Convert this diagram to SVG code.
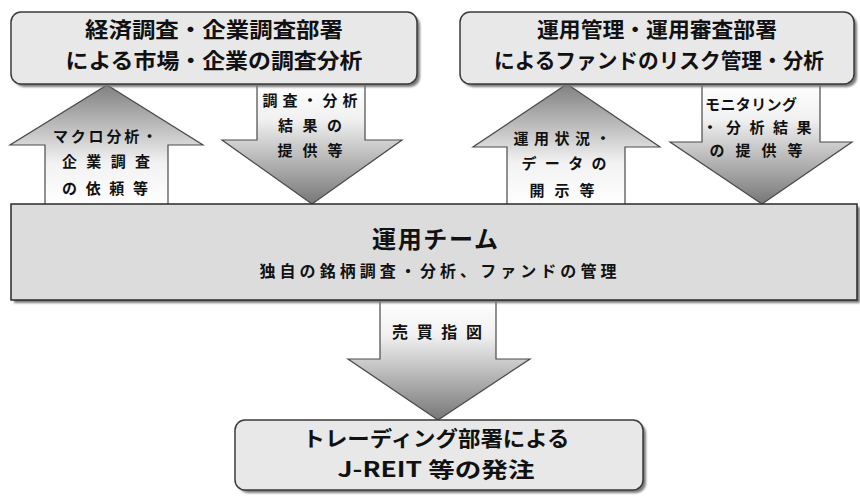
<svg xmlns="http://www.w3.org/2000/svg" width="860" height="496" viewBox="0 0 860 496">
<style>
.box{fill:#e8e8e8;stroke:#3a3a3a;stroke-width:1.5}
.mid{fill:#dcdcdc;stroke:#2a2a2a;stroke-width:1.5}
.shadow{fill:#7a7a7a;filter:url(#blur)}
.arrow{stroke:#4a4a4a;stroke-width:1.2;stroke-linejoin:miter}
.up{fill:url(#gUp)}
.down{fill:url(#gDown)}
text{font-family:"Noto Sans CJK JP","Noto Sans",sans-serif;font-weight:bold;fill:#111;text-anchor:middle}
.t1{font-size:21px}
.t2{font-size:15px}
.t3{font-size:24px}
.t4{font-size:16px}
</style>
<defs>
<linearGradient id="gUp" x1="0" y1="1" x2="0" y2="0">
<stop offset="0" stop-color="#ffffff"/>
<stop offset="0.35" stop-color="#f2f2f2"/>
<stop offset="1" stop-color="#808080"/>
</linearGradient>
<linearGradient id="gDown" x1="0" y1="0" x2="0" y2="1">
<stop offset="0" stop-color="#ffffff"/>
<stop offset="0.3" stop-color="#f0f0f0"/>
<stop offset="1" stop-color="#777777"/>
</linearGradient>
<filter id="blur" x="-5%" y="-5%" width="110%" height="120%"><feGaussianBlur stdDeviation="0.8"/></filter>
</defs>
<rect width="860" height="496" fill="#ffffff"/>

<g id="connectors">
<g id="arrow-macro-request">
<polygon class="arrow up" points="45,205 45,145 10,145 107,85 203,145 168,145 168,205"/>
<text class="t2" x="105" y="142" textLength="104" lengthAdjust="spacing">マクロ分析・</text>
<text class="t2" x="106" y="167" textLength="88" lengthAdjust="spacing">企業調査</text>
<text class="t2" x="105" y="194" textLength="86" lengthAdjust="spacing">の依頼等</text>
</g>
<g id="arrow-research-result">
<polygon class="arrow down" points="257,84 365,84 365,140 402,140 312,204 222,140 257,140"/>
<text class="t2" x="310" y="106" textLength="95" lengthAdjust="spacing">調査・分析</text>
<text class="t2" x="310" y="131" textLength="64" lengthAdjust="spacing">結果の</text>
<text class="t2" x="310" y="156" textLength="65" lengthAdjust="spacing">提供等</text>
</g>
<g id="arrow-status-disclosure">
<polygon class="arrow up" points="507,205 507,147 473,147 567,84 660,147 625,147 625,205"/>
<text class="t2" x="562" y="144" textLength="97" lengthAdjust="spacing">運用状況・</text>
<text class="t2" x="564" y="169" textLength="85" lengthAdjust="spacing">データの</text>
<text class="t2" x="562" y="196" textLength="65" lengthAdjust="spacing">開示等</text>
</g>
<g id="arrow-monitoring">
<polygon class="arrow down" points="702,84 820,84 820,142 852,142 762,204 670,142 702,142"/>
<text class="t2" x="751" y="110" textLength="92" lengthAdjust="spacing">モニタリング</text>
<text class="t2" x="757" y="133" textLength="109" lengthAdjust="spacing">・分析結果</text>
<text class="t2" x="756" y="156" textLength="93" lengthAdjust="spacing">の提供等</text>
</g>
<g id="arrow-order">
<polygon class="arrow down" points="380,300 496,300 496,359 530,359 438,420 348,359 380,359"/>
<text class="t4" x="437" y="338" textLength="90" lengthAdjust="spacing">売買指図</text>
</g>
</g>

<g id="node-research">
<rect class="shadow" x="14" y="15" width="406" height="72" rx="10"/>
<rect class="box" x="11" y="12" width="406" height="72" rx="10"/>
<text class="t1" x="214" y="37" textLength="258" lengthAdjust="spacingAndGlyphs">経済調査・企業調査部署</text>
<text class="t1" x="214" y="68" textLength="297" lengthAdjust="spacingAndGlyphs">による市場・企業の調査分析</text>
</g>

<g id="node-risk">
<rect class="shadow" x="463" y="15" width="394" height="72" rx="10"/>
<rect class="box" x="460" y="12" width="394" height="72" rx="10"/>
<text class="t1" x="657" y="37" textLength="240" lengthAdjust="spacingAndGlyphs">運用管理・運用審査部署</text>
<text class="t1" x="659" y="68" textLength="330" lengthAdjust="spacingAndGlyphs">によるファンドのリスク管理・分析</text>
</g>

<g id="node-team">
<rect class="shadow" x="14" y="207" width="846" height="96"/>
<rect class="mid" x="11" y="204" width="846" height="96"/>
<text class="t3" x="435" y="248" textLength="126" lengthAdjust="spacing">運用チーム</text>
<text class="t4" x="438" y="277" textLength="357" lengthAdjust="spacing">独自の銘柄調査・分析、ファンドの管理</text>
</g>

<g id="node-trading">
<rect class="shadow" x="238" y="423" width="408" height="70" rx="10"/>
<rect class="box" x="235" y="420" width="408" height="70" rx="10"/>
<text class="t1" x="436" y="446" textLength="267" lengthAdjust="spacingAndGlyphs">トレーディング部署による</text>
<text class="t1" x="436" y="477" textLength="197" lengthAdjust="spacingAndGlyphs">J-REIT 等の発注</text>
</g>
</svg>
